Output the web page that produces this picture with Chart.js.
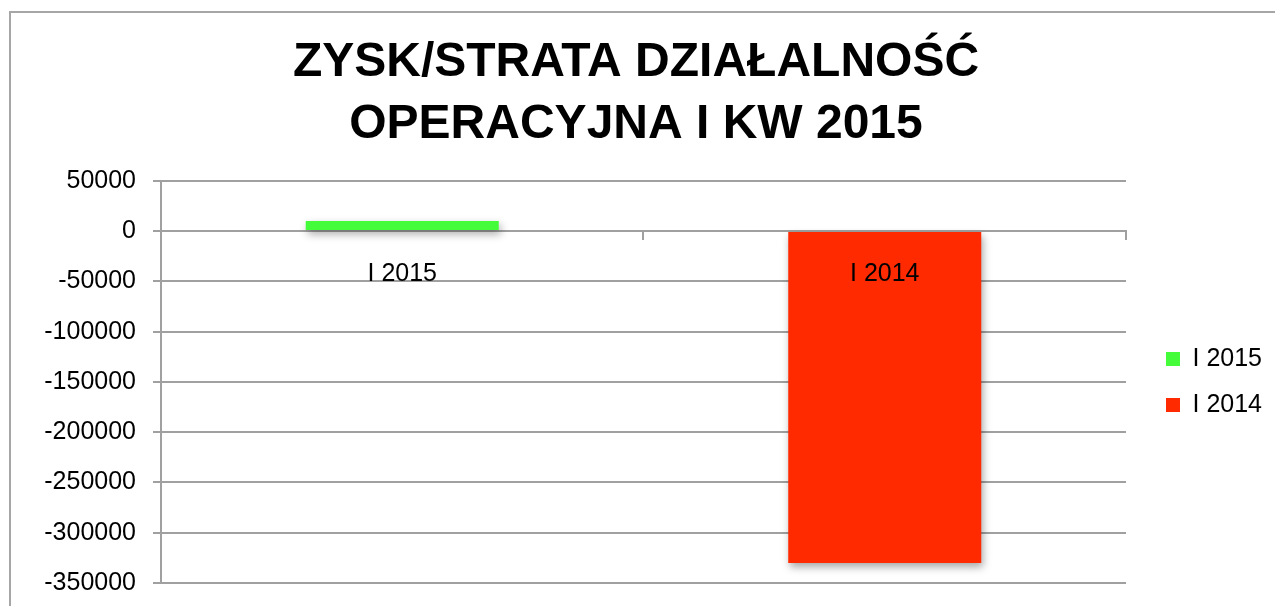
<!DOCTYPE html>
<html>
<head>
<meta charset="utf-8">
<script src="https://cdn.jsdelivr.net/npm/chart.js@4"></script>
<style>
  html, body { margin: 0; padding: 0; background: #fff; overflow: hidden; }
  #wrap { position: relative; width: 1275px; height: 606px; }
  #frame { position: absolute; left: 9px; top: 11px; width: 1400px; height: 800px;
           border: 2px solid #a6a6a6; pointer-events: none; }
</style>
</head>
<body>
<div id="wrap">
  <canvas id="chart" width="1275" height="606"></canvas>
  <div id="frame"></div>
</div>
<script>
const titleLines = ['ZYSK/STRATA DZIAŁALNOŚĆ', 'OPERACYJNA I KW 2015'];
const categories = ['I 2015', 'I 2014'];
const seriesNames = ['I 2015', 'I 2014'];
const values2015 = [10000, null];
const values2014 = [null, -330000];
const yTicks = { min: -350000, max: 50000, step: 50000 };

const gridColor = '#a0a0a0';
const font = 'Liberation Sans, Arial, sans-serif';

// soft drop shadow under the bars
const barShadow = {
  id: 'barShadow',
  beforeDatasetsDraw(chart) {
    const c = chart.ctx;
    c.save();
    c.shadowColor = 'rgba(0,0,0,0.35)';
    c.shadowBlur = 8;
    c.shadowOffsetX = 2;
    c.shadowOffsetY = 4;
  },
  afterDatasetsDraw(chart) {
    chart.ctx.restore();
  }
};

const ctx = document.getElementById('chart').getContext('2d');

new Chart(ctx, {
  type: 'bar',
  data: {
    labels: categories,
    datasets: [{
      label: seriesNames[0],
      data: values2015,
      backgroundColor: '#45fc3b'
    }, {
      label: seriesNames[1],
      data: values2014,
      backgroundColor: '#ff2a00'
    }]
  },
  plugins: [barShadow],
  options: {
    responsive: false,
    animation: false,
    events: [],
    layout: { padding: { left: 0, right: 3, top: 0, bottom: 23 } },
    datasets: {
      bar: { grouped: false, categoryPercentage: 1, barPercentage: 0.4 }
    },
    scales: {
      x: {
        type: 'category',
        position: { y: 0 },
        grid: { offset: true, drawOnChartArea: false, drawTicks: true, tickLength: 8, color: gridColor, lineWidth: 2 },
        border: { display: true, color: gridColor, width: 2 },
        ticks: { z: 1, color: '#000', font: { family: font, size: 25 }, padding: 20 }
      },
      y: {
        min: yTicks.min,
        max: yTicks.max,
        afterFit(scale) {
          scale.width = 161;
          scale.paddingTop = 0;
          scale.paddingBottom = 0;
        },
        grid: { color: gridColor, lineWidth: 2, tickLength: 8 },
        border: { display: true, color: gridColor, width: 2 },
        ticks: {
          stepSize: yTicks.step,
          color: '#000',
          font: { family: font, size: 25 },
          padding: 17,
          callback: v => String(v)
        }
      },
      gap: {
        type: 'linear',
        position: 'right',
        afterFit(scale) { scale.width = 19; },
        grid: { display: false },
        border: { display: false },
        ticks: { display: false }
      }
    },
    plugins: {
      title: {
        display: true,
        text: titleLines,
        color: '#000',
        font: { family: font, size: 48, weight: 'bold', lineHeight: 1.29 },
        padding: { top: 32, bottom: 25 }
      },
      legend: {
        position: 'right',
        fullSize: false,
        labels: {
          boxWidth: 14,
          boxHeight: 14,
          color: '#000',
          font: { family: font, size: 25 },
          padding: 21
        }
      },
      tooltip: { enabled: false }
    }
  }
});
</script>
</body>
</html>
